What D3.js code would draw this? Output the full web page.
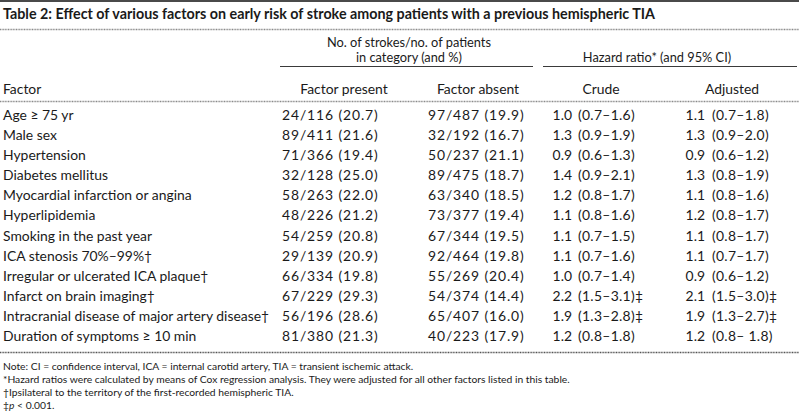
<!DOCTYPE html>
<html>
<head>
<meta charset="utf-8">
<script src="https://cdn.jsdelivr.net/npm/d3@7"></script>
<style>
  html, body { margin: 0; padding: 0; background: #fff; }
  svg text { font-family: Lato, "Open Sans", sans-serif; fill: #1a1a1a; }
</style>
</head>
<body>
<svg id="chart" width="799" height="412"></svg>
<script>
const title = "Table 2: Effect of various factors on early risk of stroke among patients with a previous hemispheric TIA";
const factors = [
  "Age \u2265 75 yr",
  "Male sex",
  "Hypertension",
  "Diabetes mellitus",
  "Myocardial infarction or angina",
  "Hyperlipidemia",
  "Smoking in the past year",
  "ICA stenosis 70%\u201399%\u2020",
  "Irregular or ulcerated ICA plaque\u2020",
  "Infarct on brain imaging\u2020",
  "Intracranial disease of major artery disease\u2020",
  "Duration of symptoms \u2265 10 min"
];
const presentStrokes = [24, 89, 71, 32, 58, 48, 54, 29, 66, 67, 56, 81];
const presentTotal   = [116, 411, 366, 128, 263, 226, 259, 139, 334, 229, 196, 380];
const presentPct     = ["20.7", "21.6", "19.4", "25.0", "22.0", "21.2", "20.8", "20.9", "19.8", "29.3", "28.6", "21.3"];
const absentStrokes  = [97, 32, 50, 89, 63, 73, 67, 92, 55, 54, 65, 40];
const absentTotal    = [487, 192, 237, 475, 340, 377, 344, 464, 269, 374, 407, 223];
const absentPct      = ["19.9", "16.7", "21.1", "18.7", "18.5", "19.4", "19.5", "19.8", "20.4", "14.4", "16.0", "17.9"];
const crudeHR = ["1.0", "1.3", "0.9", "1.4", "1.2", "1.1", "1.1", "1.1", "1.0", "2.2", "1.9", "1.2"];
const crudeCI = ["0.7\u20131.6", "0.9\u20131.9", "0.6\u20131.3", "0.9\u20132.1", "0.8\u20131.7", "0.8\u20131.6", "0.7\u20131.5", "0.7\u20131.6", "0.7\u20131.4", "1.5\u20133.1", "1.3\u20132.8", "0.8\u20131.8"];
const crudeSig = [false, false, false, false, false, false, false, false, false, true, true, false];
const adjHR = ["1.1", "1.3", "0.9", "1.3", "1.1", "1.2", "1.1", "1.1", "0.9", "2.1", "1.9", "1.2"];
const adjCI = ["0.7\u20131.8", "0.9\u20132.0", "0.6\u20131.2", "0.8\u20131.9", "0.8\u20131.6", "0.8\u20131.7", "0.8\u20131.7", "0.7\u20131.7", "0.6\u20131.2", "1.5\u20133.0", "1.3\u20132.7", "0.8\u2013 1.8"];
const adjSig = [false, false, false, false, false, false, false, false, false, true, true, false];
const spanHeaders = [["No. of strokes/no. of patients", "in category (and %)"], ["Hazard ratio* (and 95% CI)"]];
const colHeaders = ["Factor", "Factor present", "Factor absent", "Crude", "Adjusted"];
const notes = [
  "Note: CI = confidence interval, ICA = internal carotid artery, TIA = transient ischemic attack.",
  "*Hazard ratios were calculated by means of Cox regression analysis. They were adjusted for all other factors listed in this table.",
  "\u2020Ipsilateral to the territory of the first-recorded hemispheric TIA.",
  "\u2021p < 0.001."
];

const svg = d3.select("#chart");
const W = 799;
const FS = 13.9;
const HFS = 12.8;

// row scale
const y = d3.scaleBand().domain(d3.range(factors.length)).range([104, 345]).paddingInner(0);
const rowBase = i => y(i) + y.bandwidth() / 2 + 6;

// rules
svg.append("line").attr("x1", 0).attr("x2", W).attr("y1", 1).attr("y2", 1)
  .attr("stroke", "#4a4a4a").attr("stroke-width", 2);
svg.append("line").attr("x1", 0).attr("x2", W).attr("y1", 29.5).attr("y2", 29.5)
  .attr("stroke", "#8a8a8a").attr("stroke-width", 1.3).attr("stroke-dasharray", "1 0.6");
svg.append("line").attr("x1", 280).attr("x2", 533).attr("y1", 66.5).attr("y2", 66.5)
  .attr("stroke", "#3a3a3a").attr("stroke-width", 1);
svg.append("line").attr("x1", 543).attr("x2", 797).attr("y1", 66.5).attr("y2", 66.5)
  .attr("stroke", "#3a3a3a").attr("stroke-width", 1);
svg.append("line").attr("x1", 0).attr("x2", W).attr("y1", 101.5).attr("y2", 101.5)
  .attr("stroke", "#8a8a8a").attr("stroke-width", 1.3).attr("stroke-dasharray", "1 0.6");
svg.append("line").attr("x1", 0).attr("x2", W).attr("y1", 352.5).attr("y2", 352.5)
  .attr("stroke", "#555", ).attr("stroke-width", 1.3).attr("stroke-dasharray", "1 0.6");

// title
svg.append("text").attr("x", 3).attr("y", 18.5).text(title)
  .attr("font-size", 14.3).attr("font-weight", "bold");

// span headers
const spanCenters = [409, 657];
svg.selectAll(".span0").data(spanHeaders[0]).join("text")
  .attr("x", spanCenters[0]).attr("y", (d, i) => 46.5 + i * 15)
  .attr("text-anchor", "middle").attr("font-size", HFS).text(d => d);
svg.append("text").attr("x", spanCenters[1]).attr("y", 61.5)
  .attr("text-anchor", "middle").attr("font-size", HFS).text(spanHeaders[1][0]);

// column headers
const headX = [3, 344, 478, 601, 732];
svg.selectAll(".colh").data(colHeaders).join("text")
  .attr("x", (d, i) => headX[i]).attr("y", 93.5)
  .attr("text-anchor", (d, i) => i === 0 ? "start" : "middle")
  .attr("font-size", FS).text(d => d);

// rows
const rows = svg.selectAll(".row").data(factors).join("g").attr("class", "row");
rows.append("text").attr("x", 3).attr("y", (d, i) => rowBase(i)).attr("font-size", FS).text(d => d);
rows.append("text").attr("x", 282).attr("y", (d, i) => rowBase(i)).attr("font-size", FS)
  .attr("letter-spacing", 0.9)
  .text((d, i) => `${presentStrokes[i]}/${presentTotal[i]} (${presentPct[i]})`);
rows.append("text").attr("x", 428).attr("y", (d, i) => rowBase(i)).attr("font-size", FS)
  .attr("letter-spacing", 0.9)
  .text((d, i) => `${absentStrokes[i]}/${absentTotal[i]} (${absentPct[i]})`);
rows.append("text").attr("x", 572).attr("y", (d, i) => rowBase(i)).attr("font-size", FS)
  .attr("text-anchor", "end")
  .text((d, i) => crudeHR[i]);
rows.append("text").attr("x", 578).attr("y", (d, i) => rowBase(i)).attr("font-size", FS)
  .attr("letter-spacing", 0.3)
  .text((d, i) => `(${crudeCI[i]})` + (crudeSig[i] ? "\u2021" : ""));
rows.append("text").attr("x", 705).attr("y", (d, i) => rowBase(i)).attr("font-size", FS)
  .attr("text-anchor", "end")
  .text((d, i) => adjHR[i]);
rows.append("text").attr("x", 712).attr("y", (d, i) => rowBase(i)).attr("font-size", FS)
  .attr("letter-spacing", 0.3)
  .text((d, i) => `(${adjCI[i]})` + (adjSig[i] ? "\u2021" : ""));

// notes
const noteSel = svg.selectAll(".note").data(notes).join("text")
  .attr("x", 3).attr("y", (d, i) => 369.5 + i * 13.3)
  .attr("font-size", 10.3);
noteSel.each(function(d, i) {
  const t = d3.select(this);
  if (i === 3) {
    t.append("tspan").text("\u2021");
    t.append("tspan").attr("font-style", "italic").text("p");
    t.append("tspan").text(" < 0.001.");
  } else {
    t.text(d);
  }
});
</script>
</body>
</html>
